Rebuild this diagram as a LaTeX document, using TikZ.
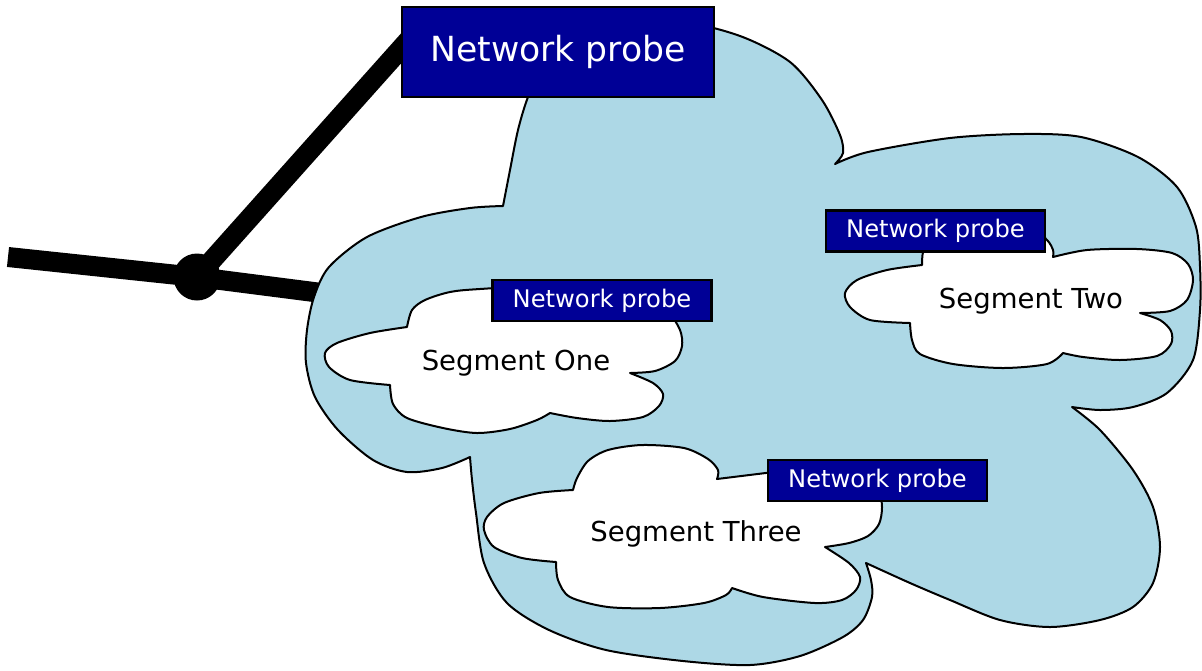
\documentclass[tikz,border=0pt]{standalone}
\usepackage{fontspec}
\setmainfont{DejaVu Sans}
\definecolor{cloudblue}{HTML}{ADD8E6}
\definecolor{probeblue}{HTML}{000096}
\pgfdeclarelayer{bg}
\pgfsetlayers{bg,main}
\begin{document}
\begin{tikzpicture}[x=0.5pt,y=-0.5pt,
  cloudline/.style={draw=black,line width=1pt,line join=round},
  probe/.style={draw=black,line width=1.2pt,fill=probeblue,text=white,inner sep=0pt,
    font=\fontsize{12.1}{14}\selectfont,minimum width=109.5pt,minimum height=20.5pt},
  bigprobe/.style={probe,font=\fontsize{17.3}{20}\selectfont,minimum width=156pt,minimum height=45pt},
  seglabel/.style={inner sep=0pt,anchor=base,font=\fontsize{13.75}{16}\selectfont},
  cable/.style={line width=10pt,line cap=butt,draw=black},
  junction/.style={circle,fill=black,inner sep=0pt,minimum size=23.5pt}]
\useasboundingbox (0,0) rectangle (1202,670);

% big network cloud
\path[cloudline,fill=cloudblue]
  plot[smooth] coordinates {(503,206) (510,170) (518,130) (528,97) (545,60) (600,25) (680,22) (740,36) (790,62) (822,100) (840,135) (843,153) (835,164)}
  -- plot[smooth] coordinates {(835,164) (868,152) (950,138) (1023,134) (1081,137) (1138,157) (1177,187) (1196,227) (1200,267) (1200,310) (1193,360) (1167,393) (1133,407) (1100,410) (1072,407)}
  -- plot[smooth] coordinates {(1072,407) (1100,430) (1133,470) (1153,507) (1160,547) (1153,583) (1133,607) (1100,620) (1050,627) (1000,620) (950,600) (910,583) (866,563)}
  -- plot[smooth] coordinates {(866,563) (871,580) (872,597) (863,620) (843,637) (800,656) (750,665) (683,661) (606,650) (549,630) (507,603) (484,563) (476,513) (472,480) (470,457)}
  -- plot[smooth] coordinates {(470,457) (442,468) (407,472) (373,460) (338,430) (315,397) (306,363) (307,330) (314,297) (329,267) (367,237) (421,217) (470,208) (503,206)}
  -- cycle;

% segment one
\path[cloudline,fill=white]
  plot[smooth] coordinates {(407,327) (412,310) (425,300) (450,292) (480,289) (560,285) (640,290) (668,312) (680,330) (682,346) (675,361) (655,371) (630,373)}
  -- plot[smooth] coordinates {(630,373) (653,383) (663,394) (659,406) (643,417) (610,421) (577,418) (550,413)}
  -- plot[smooth] coordinates {(550,413) (537,420) (510,429) (477,433) (443,428) (407,418) (393,404) (390,385)}
  -- plot[smooth] coordinates {(390,385) (350,380) (329,367) (325,353) (337,343) (370,333) (407,327)}
  -- cycle;

% segment two
\path[cloudline,fill=white]
  plot[smooth] coordinates {(922,265) (923,252) (930,235) (980,225) (1030,228) (1047,240) (1053,250) (1053,257)}
  -- plot[smooth] coordinates {(1053,257) (1087,250) (1137,249) (1172,253) (1188,264) (1193,280) (1187,300) (1170,311) (1140,313)}
  -- plot[smooth] coordinates {(1140,313) (1160,320) (1171,331) (1171,344) (1157,356) (1120,360) (1083,357) (1063,353)}
  -- plot[smooth] coordinates {(1063,353) (1047,364) (1003,368) (953,364) (920,354) (912,340) (910,323)}
  -- plot[smooth] coordinates {(910,323) (870,320) (850,307) (845,293) (857,280) (887,270) (922,265)}
  -- cycle;

% segment three
\path[cloudline,fill=white]
  plot[smooth] coordinates {(573,490) (577,478) (588,461) (608,450) (642,445) (684,448) (708,459) (718,470) (717,479)}
  -- (790,470)
  -- plot[smooth] coordinates {(860,475) (878,490) (882,507) (879,524) (868,536) (849,543) (825,547)}
  -- plot[smooth] coordinates {(825,547) (849,563) (860,577) (856,590) (842,600) (815,603) (763,597) (732,588)}
  -- plot[smooth] coordinates {(732,588) (726,595) (704,603) (660,608) (608,607) (570,597) (558,580) (556,562)}
  -- plot[smooth] coordinates {(556,562) (522,558) (494,547) (484,530) (487,517) (504,503) (539,493) (573,490)}
  -- cycle;

% labels
\node[seglabel] (seg1) at (516,370) {Segment One};
\node[seglabel] (seg2) at (1031,308) {Segment Two};
\node[seglabel] (seg3) at (696,541) {Segment Three};

% probes
\node[bigprobe] (p0) at (558,52) {Network probe};
\node[probe] (p1) at (602,300.5) {Network probe};
\node[probe] (p2) at (935.5,231) {Network probe};
\node[probe] (p3) at (877.5,480.5) {Network probe};

% junction and cables
\node[junction] (j) at (197,277) {};
\coordinate (cableL) at (8,257);
\coordinate (cableR) at (345,296);
\begin{pgfonlayer}{bg}
  \draw[cable] (cableL) -- (j.center) -- (cableR);
  \draw[cable] (j.center) -- ([shift={(14,-19)}]p0.west);
\end{pgfonlayer}
\end{tikzpicture}
\end{document}
